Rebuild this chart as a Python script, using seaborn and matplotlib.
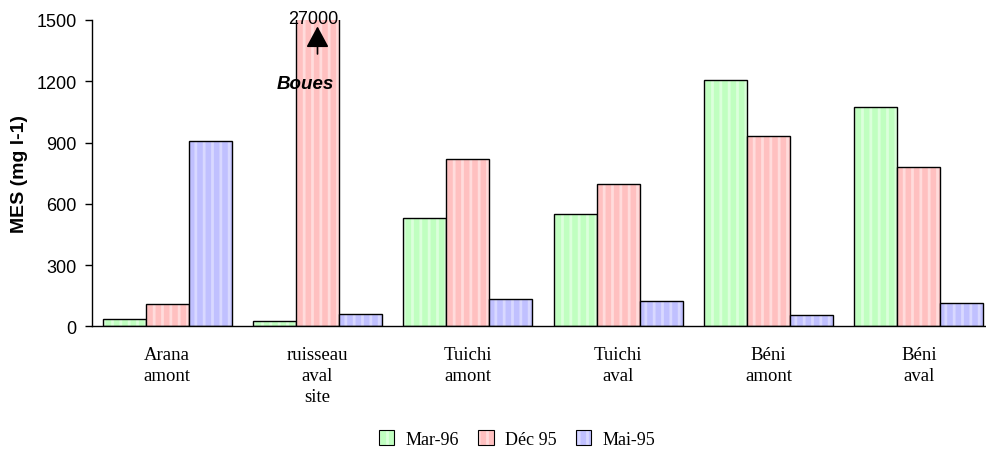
import matplotlib
matplotlib.use("Agg")
import matplotlib.pyplot as plt
import seaborn as sns
import pandas as pd
from matplotlib.colors import to_rgba
from matplotlib.patches import Patch

sites = ["Arana\namont", "ruisseau\naval\nsite", "Tuichi\namont", "Tuichi\naval", "Béni\namont", "Béni\naval"]
series = ["Mar-96", "Déc 95", "Mai-95"]
mar96 = [35, 25, 530, 550, 1205, 1075]
dec95 = [108, 27000, 820, 695, 930, 780]
mai95 = [905, 60, 135, 125, 55, 115]

fills = ["#C0FFC0", "#FFC0C0", "#C0C0FF"]
stripes = ["#DCFFDC", "#FFDCDC", "#D8D8FF"]

rows = []
for s, vals in zip(series, [mar96, dec95, mai95]):
    for site, v in zip(sites, vals):
        rows.append({"site": site, "serie": s, "MES": v})
df = pd.DataFrame(rows)

sns.set_style("white")
plt.rcParams["hatch.linewidth"] = 2.0
plt.rcParams["text.color"] = "black"
plt.rcParams["axes.labelcolor"] = "black"
plt.rcParams["xtick.color"] = "black"
plt.rcParams["ytick.color"] = "black"
sans = "Liberation Sans"
serif = "Liberation Serif"

fig = plt.figure(figsize=(9.87, 4.52), dpi=100)
ax = fig.add_axes([92 / 987, 0.2759, 902 / 987, 0.6777])

sns.barplot(data=df, x="site", y="MES", hue="serie", order=sites, hue_order=series,
            palette=fills, width=0.86, gap=0, edgecolor="black", linewidth=1.0,
            saturation=1, legend=False, ax=ax, errorbar=None)

for cont, st in zip(ax.containers, stripes):
    for p in cont:
        p.set_hatch("||")
        p._hatch_color = to_rgba(st)

ax.set_ylim(0, 1500)
ax.set_xlim(-0.5, 5.5)
ax.set_yticks([0, 300, 600, 900, 1200, 1500])
ax.set_xticks(range(len(sites)))
ax.set_xticklabels(sites, fontfamily=serif, fontsize=13.5, linespacing=1.3, color="black")
ax.set_xticks([i - 0.5 for i in range(len(sites) + 1)], minor=True)
ax.tick_params(axis="x", which="major", length=0, pad=14)
ax.tick_params(axis="x", which="minor", length=8, direction="inout", width=1, color="black")
ax.tick_params(axis="y", which="major", length=5, direction="out", width=1, color="black",
               labelcolor="black", pad=6, left=True)
for lab in ax.get_yticklabels():
    lab.set_fontfamily(sans)
    lab.set_fontsize(13)

ax.set_xlabel("")
ax.set_ylabel("MES (mg l-1)", fontfamily=sans, fontsize=14, fontweight="bold", labelpad=6, color="black")
sns.despine(ax=ax)
for sp in ["left", "bottom"]:
    ax.spines[sp].set_color("black")
    ax.spines[sp].set_linewidth(1)

ax.text(0.97, 1505, "27000", ha="center", va="center", fontfamily=sans, fontsize=13,
        color="black", clip_on=False)
ax.annotate("", xy=(1.0, 1482), xytext=(1.0, 1320),
            arrowprops=dict(arrowstyle="-|>,head_length=0.65,head_width=0.35", color="black",
                            lw=1.2, mutation_scale=20),
            annotation_clip=False)
ax.text(0.917, 1191, "Boues", ha="center", va="center", fontfamily=sans, fontsize=13.5,
        fontweight="bold", fontstyle="italic", color="black")

handles = []
for f, st in zip(fills, stripes):
    h = Patch(facecolor=f, edgecolor="black", hatch="||", linewidth=0.8)
    h._hatch_color = to_rgba(st)
    handles.append(h)
fig.legend(handles, series, loc="center", bbox_to_anchor=(517 / 987, 1 - 440 / 452), ncol=3,
           frameon=False, prop={"family": serif, "size": 13}, handlelength=0.85,
           handleheight=0.85, handletextpad=0.6, columnspacing=1.1, labelcolor="black")

fig.savefig("out.png", dpi=100)
